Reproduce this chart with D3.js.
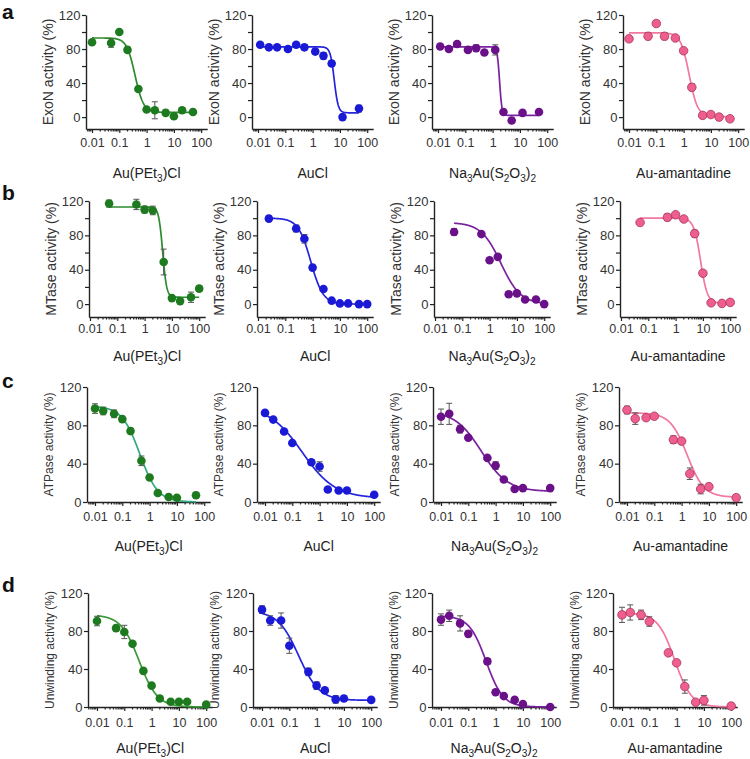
<!DOCTYPE html>
<html>
<head>
<meta charset="utf-8">
<script src="https://cdn.jsdelivr.net/npm/d3@7"></script>
<style>
  body { margin: 0; background: #fff; }
  svg { display: block; font-family: Arial, "Liberation Sans", Helvetica, sans-serif; }
</style>
</head>
<body>
<svg id="fig" width="750" height="759"></svg>
<script>
// ---- data ----
const rowLetters = ["a", "b", "c", "d"];
const yTitles = ["ExoN activity (%)", "MTase activity (%)", "ATPase activity (%)", "Unwinding activity (%)"];
const compounds = ["Au(PEt3)Cl", "AuCl", "Na3Au(S2O3)2", "Au-amantadine"];
const xTicks = [0.01, 0.1, 1, 10, 100];

// ExoN (row a)
const exonDose = [
  [0.01, 0.05, 0.1, 0.2, 0.5, 1, 2, 5, 10, 20, 50],
  [0.012, 0.025, 0.05, 0.125, 0.25, 0.5, 1.25, 2.5, 5, 12.5, 50],
  [0.012, 0.025, 0.05, 0.125, 0.25, 0.5, 1.25, 2.5, 5, 12.5, 50],
  [0.01, 0.05, 0.1, 0.2, 0.5, 1, 2, 5, 10, 20, 50]
];
const exonMean = [
  [88, 87, 100, 79, 33, 9, 8, 5, 1, 8, 6],
  [85, 82, 82, 80, 85, 82, 77, 72, 63, 0, 10],
  [83, 80, 86, 79, 81, 76, 79, 6, -4, 5, 6],
  [92, 95, 110, 95, 93, 78, 35, 2, 3, 0, -2]
];
const exonErr = [
  [2, 5, 0, 3, 2, 2, 10, 3, 0, 0, 2],
  [2, 1, 1, 2, 2, 3, 3, 4, 3, 0, 4],
  [3, 2, 0, 2, 4, 1, 6, 1, 3, 0, 1],
  [1, 4, 3, 4, 1, 1, 4, 1, 1, 0, 0]
];
const exonFit = [[93, 5.5, 0.377, 2.8], [82.5, 5, 6.2, 6], [82.5, 2, 1.8, 10], [99, 0.5, 1.6, 2.8]];

// MTase (row b)
const mtaseDose = [
  [0.05, 0.5, 1, 2, 5, 10, 20, 50, 100],
  [0.025, 0.25, 0.5, 1, 2.5, 5, 10, 20, 50, 100],
  [0.05, 0.5, 1, 2, 5, 10, 20, 50, 100],
  [0.05, 0.5, 1, 2, 5, 10, 20, 50, 100]
];
const mtaseMean = [
  [117, 116, 110, 109, 49, 7, 3.5, 8, 18],
  [99.5, 88, 76, 42.5, 17.5, 4, 0.8, 0.8, 0, 0],
  [84, 81.5, 51, 55, 11.5, 12.5, 5.4, 5.4, 0],
  [95, 101, 104, 99, 82, 36, 1.5, 0.8, 2]
];
const mtaseErr = [
  [4, 6, 4, 5, 15, 0, 0, 6, 3],
  [3, 4, 5, 0, 0, 0, 0, 0, 0, 0],
  [4, 0, 0, 0, 3, 0, 0, 0, 0],
  [0, 4, 0, 0, 4, 3, 0, 0, 0]
];
const mtaseFit = [[113, 8, 4.6, 6], [100, 0, 0.85, 1.9], [95, 0, 2.6, 1.2], [100, 1, 8.2, 3.5]];

// ATPase (row c)
const atpDose = [
  [0.01, 0.02, 0.05, 0.1, 0.2, 0.5, 1, 2, 5, 10, 50],
  [0.01, 0.02, 0.05, 0.1, 0.5, 1, 2, 5, 10, 100],
  [0.01, 0.02, 0.05, 0.1, 0.5, 1, 2, 5, 10, 100],
  [0.01, 0.02, 0.05, 0.1, 0.5, 1, 2, 5, 10, 100]
];
const atpMean = [
  [97.5, 95, 92, 86.5, 74, 43, 25.5, 9.4, 5.2, 4.5, 7],
  [93, 86, 73.5, 61.5, 41.5, 37, 13, 12, 12, 7.5],
  [89, 92, 76, 67, 46, 38, 23.5, 13.5, 14.5, 14.5],
  [96, 87, 88, 89.5, 65, 63.5, 29.5, 13.5, 16, 4.5]
];
const atpErr = [
  [5, 4, 4, 0, 3, 5, 2, 0, 0, 0, 3],
  [0, 0, 0, 0, 0, 5, 0, 0, 0, 0],
  [8, 11, 4, 0, 0, 4, 0, 0, 0, 0],
  [4, 6, 0, 0, 4, 0, 6, 5, 3, 3]
];
const atpFit = [[100, 0, 0.44, 1.32], [100, 4, 0.23, 0.72], [95, 11, 0.3, 0.9], [93, 5, 1.6, 1.4]];

// Unwinding (row d)
const unwDose = [
  [0.01, 0.05, 0.1, 0.2, 0.5, 1, 2, 5, 10, 20, 100],
  [0.01, 0.02, 0.05, 0.1, 0.5, 1, 2, 5, 10, 100],
  [0.01, 0.02, 0.05, 0.1, 0.5, 1, 2, 5, 10, 100],
  [0.01, 0.02, 0.05, 0.1, 0.5, 1, 2, 5, 10, 100]
];
const unwMean = [
  [90.5, 83, 79, 66.5, 38, 22.5, 9, 5.5, 5.5, 5.5, 2.5],
  [102.5, 91, 91, 64.5, 37, 22.5, 17.5, 8, 9, 7.5],
  [92, 96, 88, 77, 48, 15.5, 11.5, 7.5, 3, 0],
  [97, 99.5, 97, 90, 57, 46.5, 21.5, 5, 7, 1]
];
const unwErr = [
  [5, 3, 7, 0, 0, 0, 0, 0, 0, 0, 0],
  [4, 5, 8, 8, 4, 4, 2, 4, 3, 0],
  [6, 6, 8, 3, 3, 2, 0, 0, 0, 0],
  [8, 8, 5, 5, 0, 0, 7, 0, 5, 0]
];
const unwFit = [[97, 0, 0.35, 1.3], [101, 7, 0.22, 1.15], [96, 0, 0.45, 1.4], [99, 0, 0.85, 1.4]];

const assays = [
  { dose: exonDose, mean: exonMean, err: exonErr, fit: exonFit },
  { dose: mtaseDose, mean: mtaseMean, err: mtaseErr, fit: mtaseFit },
  { dose: atpDose, mean: atpMean, err: atpErr, fit: atpFit },
  { dose: unwDose, mean: unwMean, err: unwErr, fit: unwFit }
];

// ---- styling / layout ----
const pointColors = ["#1e7a1e", "#1a1ad6", "#6a1088", "#ee5f8d"];
const curveColors = [
  ["#2c8c2c", "#2424e0", "#7a22a0", "#f3789f"],
  ["#2c8c2c", "#2424e0", "#7a22a0", "#f3789f"],
  ["#33a882", "#2424e0", "#7a22a0", "#f3789f"],
  ["#3a9a3a", "#2424e0", "#7a22a0", "#f3789f"]
];
const layout = [
  { axisX: [86, 252, 432, 623], pad: 6, yTop: 15, yBot: 129, yMin: -14, step: 20, titleSize: 14, xPad: 5.5, labelY: 178, letterY: 19 },
  { axisX: [89, 257, 434, 620], pad: 1, yTop: 201, yBot: 317, yMin: -15, step: 20, titleSize: 14, xPad: 3, labelY: 361, letterY: 200 },
  { axisX: [87, 257, 433, 619], pad: 8, yTop: 387, yBot: 502, yMin: 0, step: 40, titleSize: 12, xPad: 6, labelY: 551, letterY: 388 },
  { axisX: [88, 253, 432, 613], pad: 9, yTop: 593, yBot: 707, yMin: 0, step: 40, titleSize: 12, xPad: 7.5, labelY: 753, letterY: 592 }
];
const DEC = 27.3;   // px per decade
const ink = "#222";

const svg = d3.select("#fig");

function richLabel(sel, str) {
  // digits in chemical names are subscripts
  let low = false;
  str.match(/\d+|\D+/g).forEach(p => {
    const t = sel.append("tspan").text(p);
    if (/\d/.test(p)) {
      t.attr("font-size", "0.72em").attr("dy", low ? 0 : 3.5);
      low = true;
    } else if (low) {
      t.attr("dy", -3.5);
      low = false;
    }
  });
}

layout.forEach((L, r) => {
  svg.append("text")
    .attr("x", 2).attr("y", L.letterY)
    .attr("font-size", 21).attr("font-weight", "bold").attr("fill", "#111")
    .text(rowLetters[r]);

  const A = assays[r];

  compounds.forEach((name, c) => {
    const ax = L.axisX[c];
    const w = L.pad + 4 * DEC + 6;
    const x = d3.scaleLog()
      .domain([Math.pow(10, -2 - L.pad / DEC), Math.pow(10, 2 + 6 / DEC)])
      .range([ax, ax + w]);
    const y = d3.scaleLinear().domain([L.yMin, 120]).range([L.yBot, L.yTop]);
    const g = svg.append("g");

    // x axis
    const xa = g.append("g")
      .attr("transform", `translate(0,${L.yBot})`)
      .call(d3.axisBottom(x).tickValues(xTicks).tickFormat(d => d)
        .tickSize(4).tickSizeOuter(0).tickPadding(L.xPad));
    const minor = [];
    for (let e = -3; e <= 2; e++) {
      for (let k = 2; k <= 9; k++) {
        const v = k * Math.pow(10, e);
        if (v > x.domain()[0] && v < x.domain()[1]) minor.push(v);
      }
    }
    xa.selectAll("line.minor").data(minor).join("line")
      .attr("class", "minor")
      .attr("x1", d => x(d)).attr("x2", d => x(d))
      .attr("y1", 0).attr("y2", 2.5);

    // y axis
    const ya = g.append("g")
      .attr("transform", `translate(${ax},0)`)
      .call(d3.axisLeft(y).tickValues(d3.range(0, 121, L.step))
        .tickFormat(d => d % 40 === 0 ? d : "")
        .tickSize(4).tickSizeOuter(0).tickPadding(1.5));

    [xa, ya].forEach(a => {
      a.select(".domain").attr("stroke", ink).attr("stroke-width", 1.4);
      a.selectAll("line").attr("stroke", ink).attr("stroke-width", 1.2);
      a.selectAll("text").attr("fill", "#333").attr("font-family", null);
    });
    xa.selectAll("text").attr("font-size", 12.5);
    ya.selectAll("text").attr("font-size", 13);

    // y title
    g.append("text")
      .attr("transform", `translate(${ax - 38},${(L.yTop + L.yBot) / 2}) rotate(-90)`)
      .attr("text-anchor", "middle").attr("dy", "0.35em")
      .attr("font-size", L.titleSize).attr("fill", "#333")
      .text(yTitles[r]);

    // compound label
    const lab = g.append("text")
      .attr("x", ax + w / 2).attr("y", L.labelY)
      .attr("text-anchor", "middle").attr("font-size", 14).attr("fill", "#222");
    richLabel(lab, name);

    // fitted 4PL curve
    const dose = A.dose[c], mean = A.mean[c], err = A.err[c];
    const [top, bot, ic, h] = A.fit[c];
    const lo = Math.log10(dose[0]), hi = Math.log10(dose[dose.length - 1]);
    const curve = d3.range(0, 241).map(i => {
      const v = Math.pow(10, lo + (hi - lo) * i / 240);
      return [v, bot + (top - bot) / (1 + Math.pow(v / ic, h))];
    });
    g.append("path")
      .datum(curve)
      .attr("fill", "none")
      .attr("stroke", curveColors[r][c])
      .attr("stroke-width", 1.7)
      .attr("d", d3.line().x(d => x(d[0])).y(d => y(d[1])));

    // error bars
    const pts = dose.map((d, i) => ({ d, m: mean[i], e: err[i] }));
    const eb = g.append("g").attr("stroke", "#555").attr("stroke-width", 1);
    pts.filter(p => p.e > 0).forEach(p => {
      eb.append("line").attr("x1", x(p.d)).attr("x2", x(p.d))
        .attr("y1", y(p.m - p.e)).attr("y2", y(p.m + p.e));
      [p.m - p.e, p.m + p.e].forEach(v => {
        eb.append("line").attr("x1", x(p.d) - 3).attr("x2", x(p.d) + 3)
          .attr("y1", y(v)).attr("y2", y(v));
      });
    });

    // points
    g.append("g").selectAll("circle").data(pts).join("circle")
      .attr("cx", p => x(p.d)).attr("cy", p => y(p.m))
      .attr("r", 4.3)
      .attr("fill", pointColors[c])
      .attr("stroke", c === 3 ? "#a8325c" : "none")
      .attr("stroke-width", 0.8);
  });
});
</script>
</body>
</html>
